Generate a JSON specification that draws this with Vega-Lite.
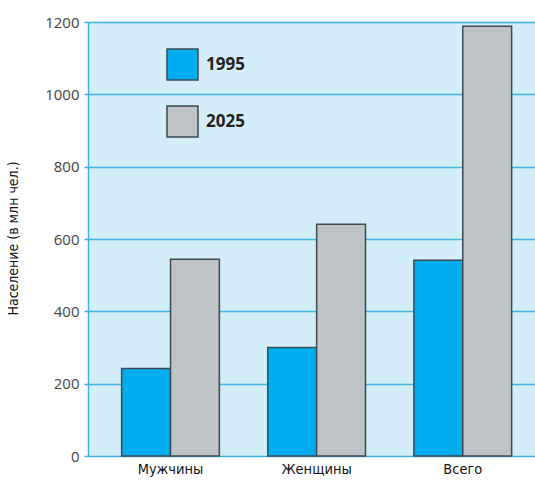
{
  "$schema": "https://vega.github.io/schema/vega-lite/v6.json",
  "width": 447,
  "height": 434,
  "autosize": {"type": "none"},
  "padding": {"left": 88, "top": 22, "right": 0, "bottom": 29},
  "background": "#ffffff",
  "config": {
    "view": {"fill": "#d4eef9", "stroke": null},
    "font": "Open Sans"
  },
  "data": {
    "values": [
      {"group": "Мужчины", "year": "1995", "value": 242},
      {"group": "Мужчины", "year": "2025", "value": 544},
      {"group": "Женщины", "year": "1995", "value": 300},
      {"group": "Женщины", "year": "2025", "value": 641},
      {"group": "Всего", "year": "1995", "value": 541},
      {"group": "Всего", "year": "2025", "value": 1188}
    ]
  },
  "mark": {"type": "bar", "stroke": "#3d4a50", "strokeWidth": 1.5},
  "encoding": {
    "x": {
      "field": "group",
      "type": "nominal",
      "sort": ["Мужчины", "Женщины", "Всего"],
      "scale": {"paddingInner": 0.331, "paddingOuter": 0.195, "align": 0.59},
      "axis": {
        "title": null,
        "labelAngle": 0,
        "ticks": false,
        "domain": false,
        "labelFont": "DejaVu Sans Condensed, Liberation Sans",
        "labelFontSize": 14.5,
        "labelColor": "#111111",
        "labelPadding": 6
      }
    },
    "xOffset": {"field": "year", "type": "nominal", "scale": {"paddingInner": 0, "paddingOuter": 0}},
    "y": {
      "field": "value",
      "type": "quantitative",
      "scale": {"domain": [0, 1200], "nice": false},
      "axis": {
        "title": "Население (в млн чел.)",
        "titleFont": "DejaVu Sans Condensed, Liberation Sans",
        "titleFontSize": 14,
        "titleFontWeight": "normal",
        "titleColor": "#111111",
        "titleX": -68,
        "titleY": 216,
        "values": [0, 200, 400, 600, 800, 1000, 1200],
        "format": "d",
        "grid": true,
        "gridColor": "#3cb4e2",
        "gridWidth": 1.5,
        "domain": true,
        "domainColor": "#3cb4e2",
        "domainWidth": 1.5,
        "ticks": true,
        "tickColor": "#3cb4e2",
        "tickSize": 4,
        "tickWidth": 1.5,
        "labelFont": "Open Sans",
        "labelFontSize": 15,
        "labelColor": "#444444",
        "labelPadding": 5
      }
    },
    "fill": {
      "field": "year",
      "type": "nominal",
      "scale": {"domain": ["1995", "2025"], "range": ["#00adee", "#bdc3c6"]},
      "legend": {
        "title": null,
        "orient": "none",
        "legendX": 78,
        "legendY": 26,
        "symbolType": "square",
        "symbolSize": 961,
        "symbolStrokeColor": "#3d4a50",
        "symbolStrokeWidth": 1.5,
        "labelFont": "Open Sans",
        "labelFontSize": 17,
        "labelFontWeight": "bold",
        "labelColor": "#222222",
        "labelOffset": 7,
        "rowPadding": 20
      }
    }
  }
}
